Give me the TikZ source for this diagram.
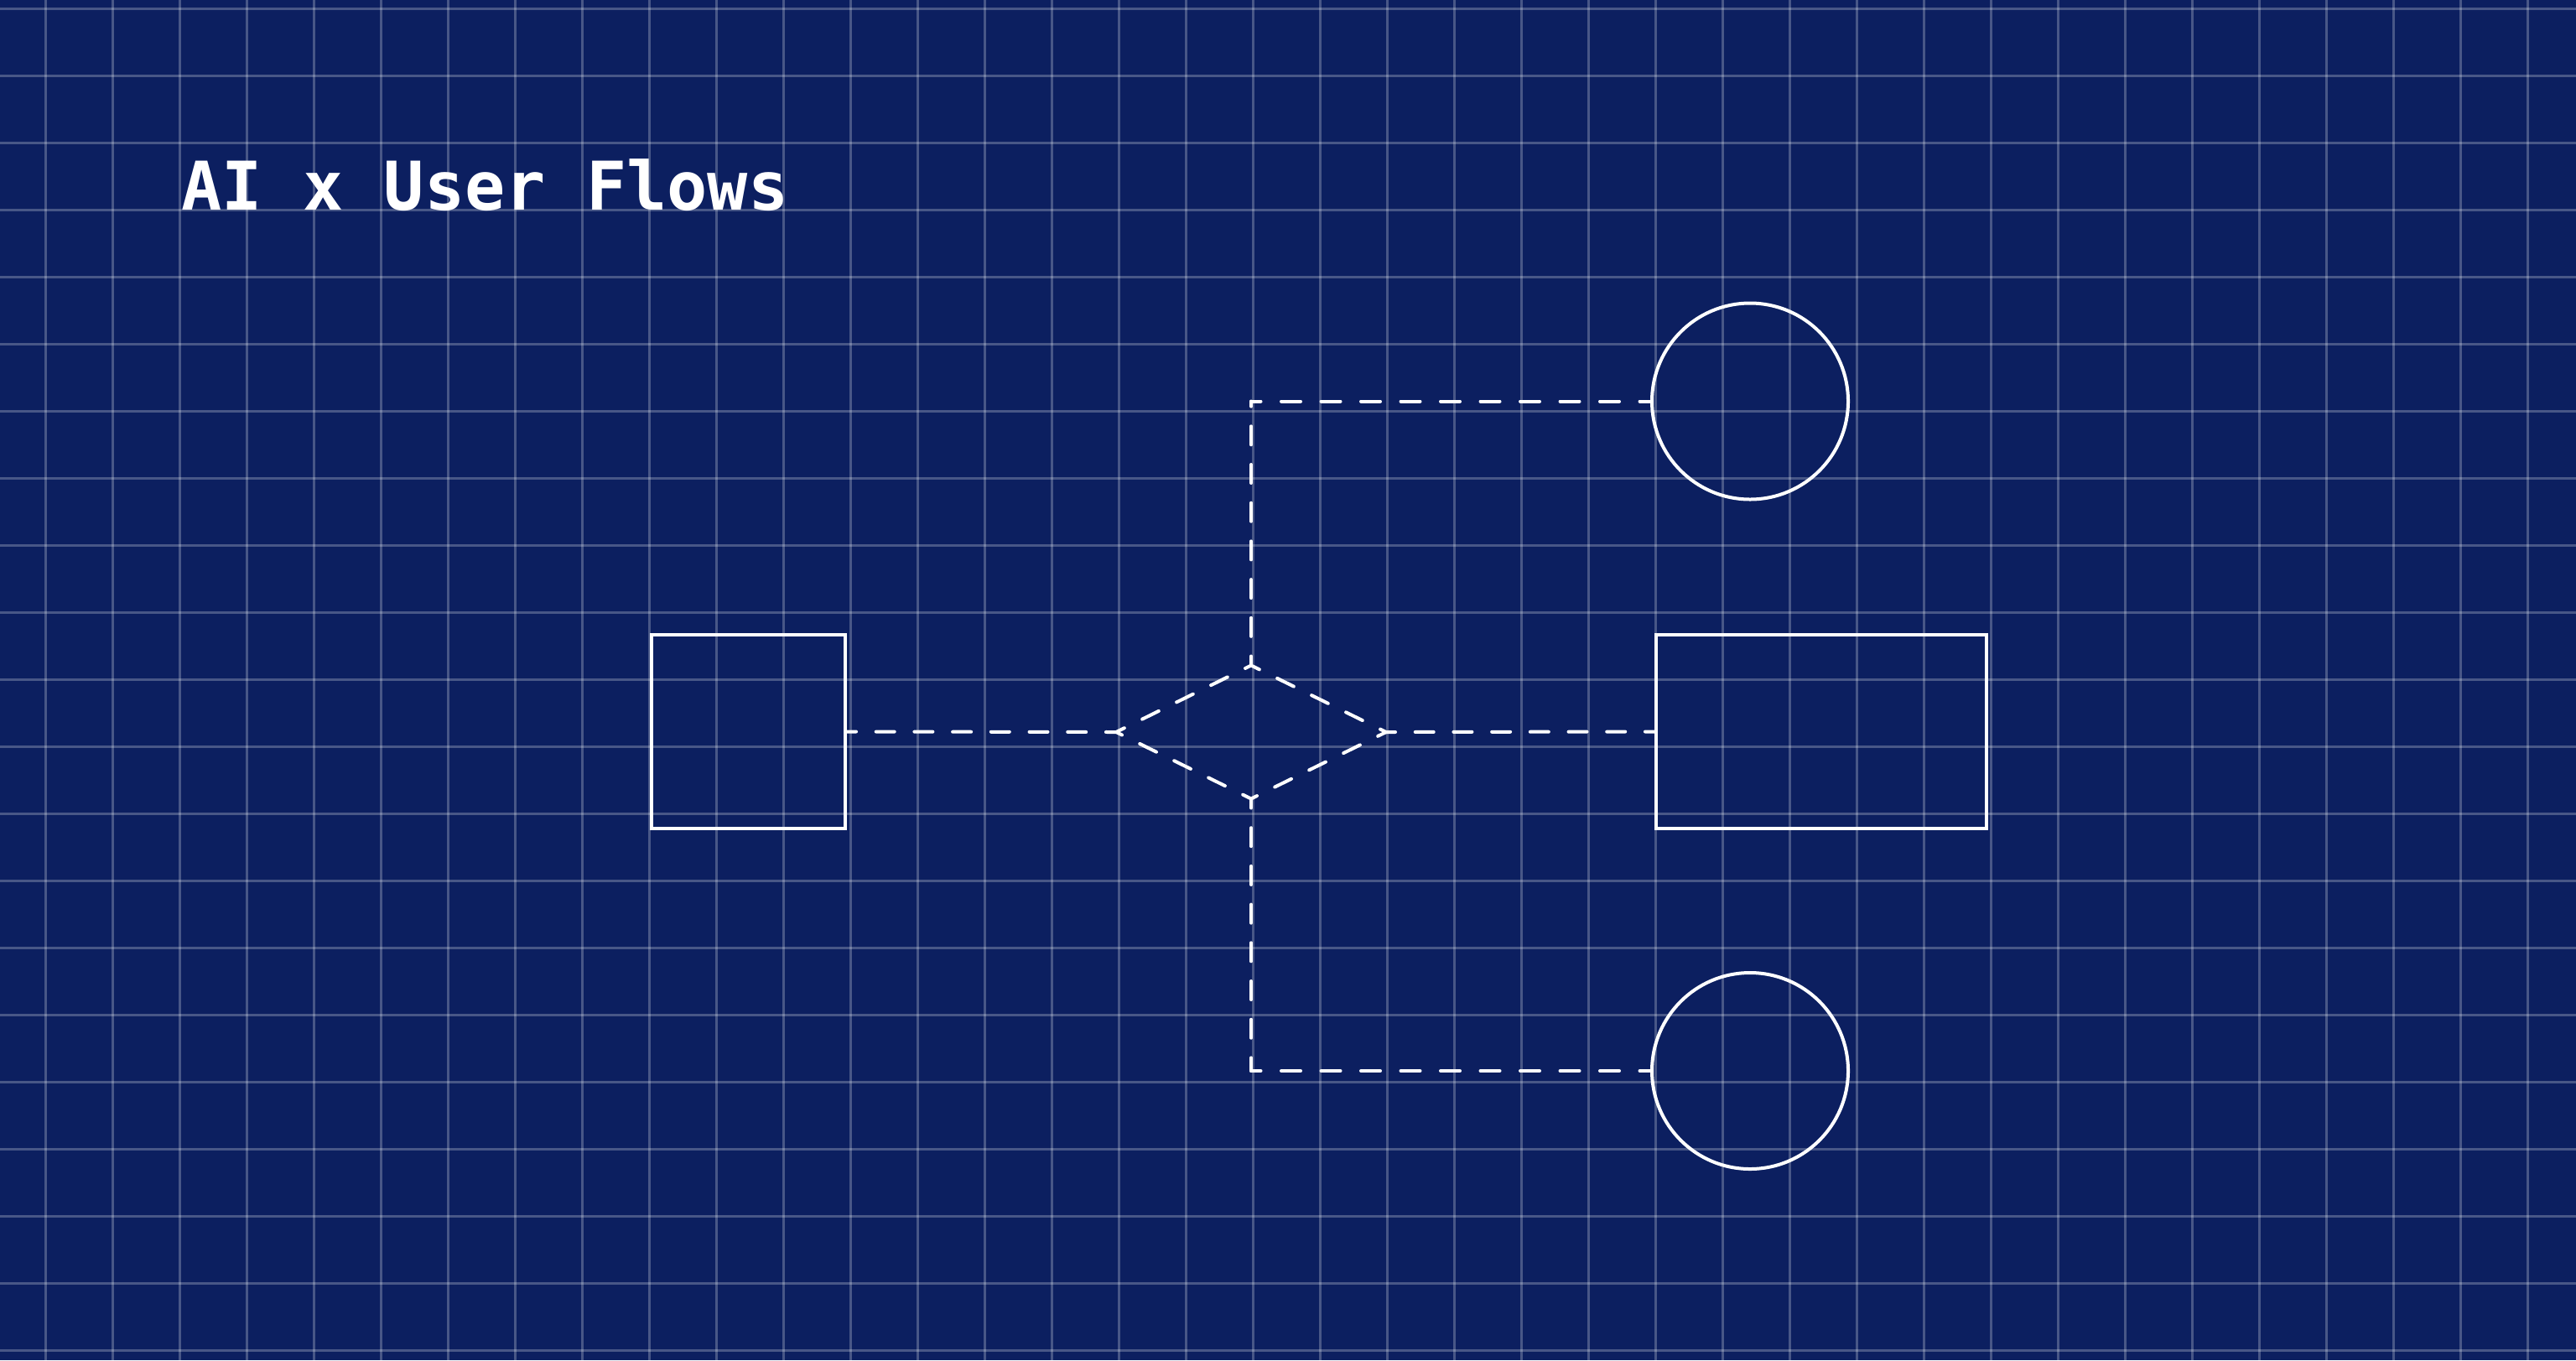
\documentclass[tikz,border=0pt]{standalone}
\usepackage{fontspec}
\newfontfamily\titlefont{DejaVu Sans Mono}
\usetikzlibrary{shapes.geometric}
\definecolor{navy}{RGB}{12,31,96}

\begin{document}
\begin{tikzpicture}[
  gridline/.style={white, opacity=0.25, line width=0.03cm},
  title/.style={anchor=base west, inner sep=0pt, text=white,
    font=\titlefont\bfseries\fontsize{22.8pt}{27pt}\selectfont},
  box/.style={draw=white, line width=0.04cm, minimum height=2.31cm, inner sep=0pt},
  endpt/.style={draw=white, circle, line width=0.04cm, minimum size=2.34cm, inner sep=0pt},
  decision/.style={diamond, minimum width=3.22cm, minimum height=1.59cm,
    inner sep=0pt, outer sep=0pt},
  link/.style={white, line width=0.04cm, line cap=round,
    dash pattern=on 0.22cm off 0.237cm, dash phase=0.11cm},
  longlink/.style={link, dash pattern=on 0.23cm off 0.245cm, dash phase=0.115cm},
]
  \useasboundingbox (0,0) rectangle (30.72,-16.22);
  \fill[navy] (0,0) rectangle (30.72,-16.22);

  % grid
  \foreach \i in {0,...,37} {
    \draw[gridline] (0.54+0.8*\i,0) -- (0.54+0.8*\i,-16.22);
  }
  \foreach \j in {0,...,20} {
    \draw[gridline] (0,-0.10-0.8*\j) -- (30.72,-0.10-0.8*\j);
  }

  \node[title] (heading) at (2.16,-2.50) {AI x User Flows};

  \node[box, minimum width=2.31cm] (input) at (8.925,-8.725) {};
  \node[decision] (check) at (14.92,-8.73) {};
  \node[box, minimum width=3.94cm] (output) at (21.72,-8.725) {};
  \node[endpt] (accept) at (20.87,-4.785) {};
  \node[endpt] (reject) at (20.87,-12.77) {};

  % diamond outline, one dashed side at a time
  \draw[link] (check.west) -- (check.north) (check.north) -- (check.east)
    (check.east) -- (check.south) (check.south) -- (check.west);

  \draw[link] (input.east) -- (check.west);
  \draw[link] (check.east) -- (output.west);

  \coordinate (upbend) at (check.north |- accept.west);
  \coordinate (downbend) at (check.south |- reject.west);
  \draw[link] (check.north) -- (upbend);
  \draw[longlink] (upbend) -- (accept.west);
  \draw[link] (check.south) -- (downbend);
  \draw[longlink] (downbend) -- (reject.west);
\end{tikzpicture}
\end{document}
